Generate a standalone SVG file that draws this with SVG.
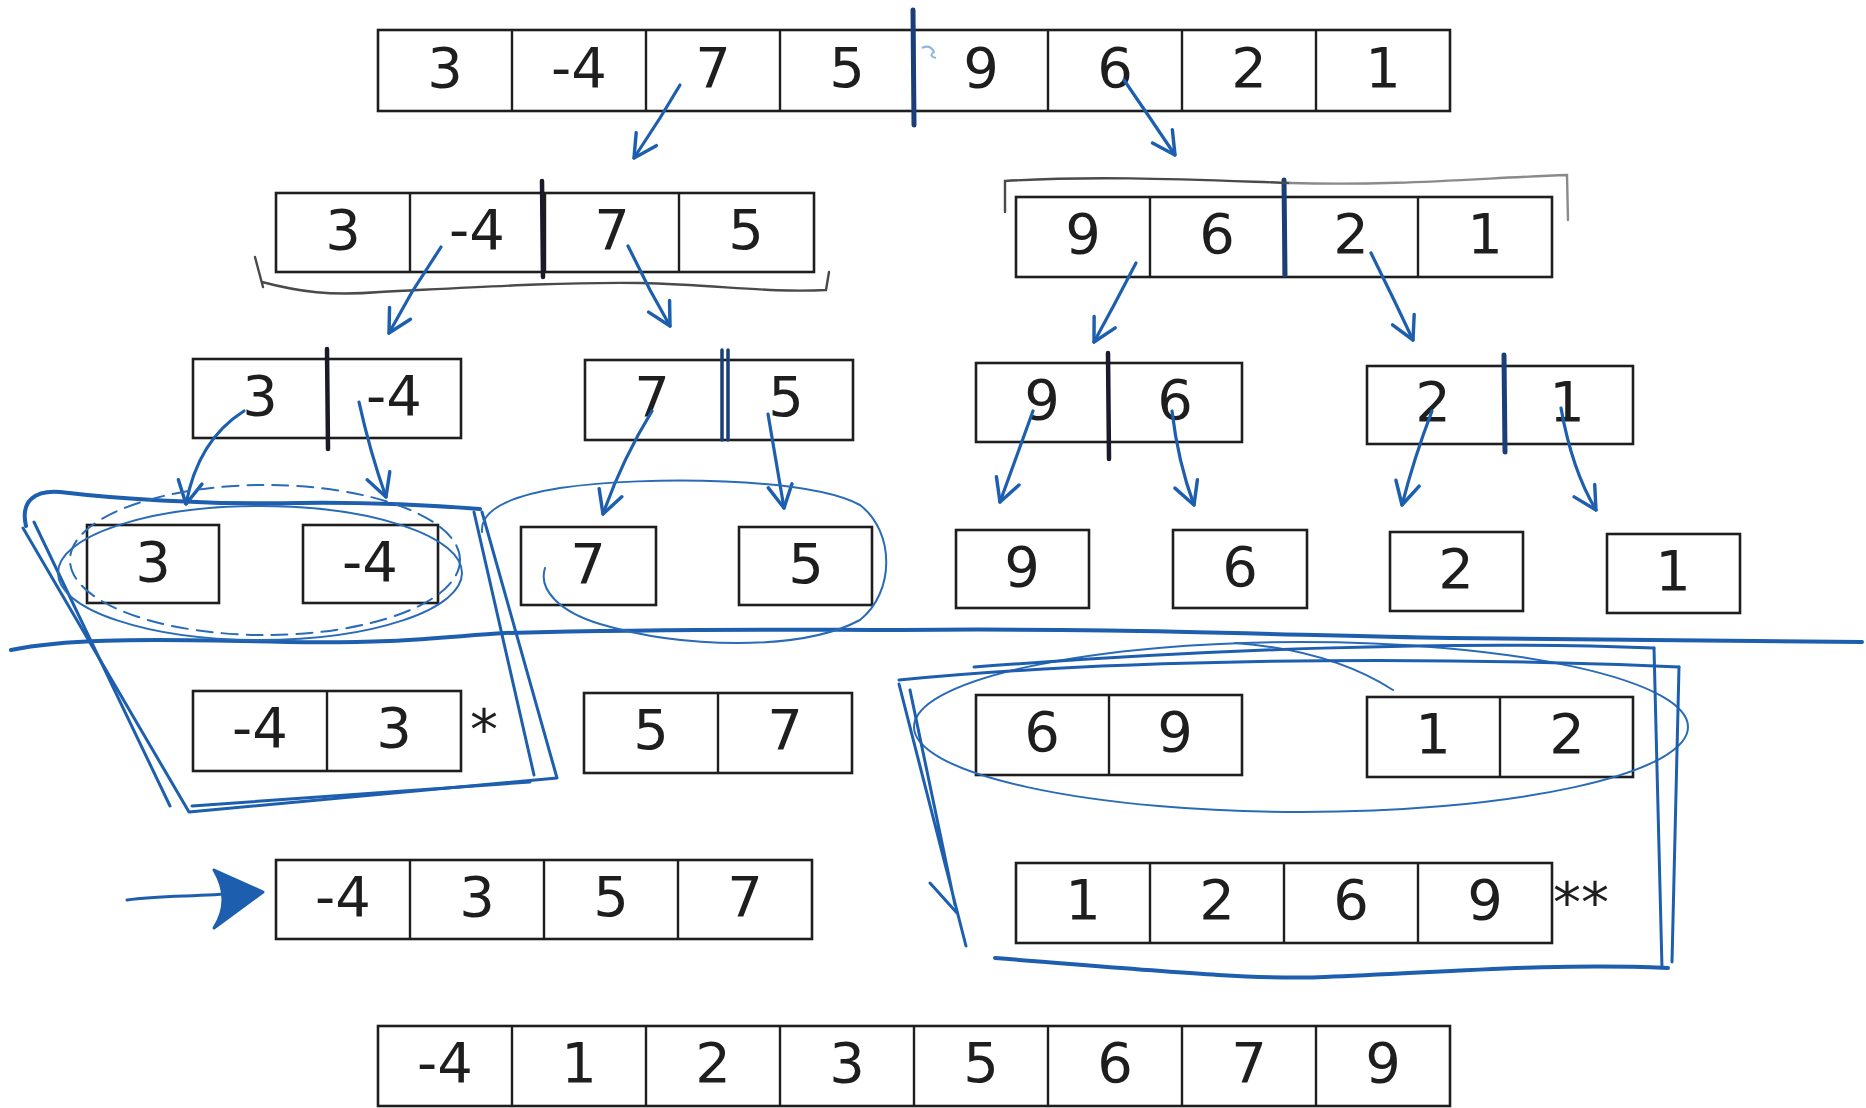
<svg xmlns="http://www.w3.org/2000/svg" width="1866" height="1108" viewBox="0 0 1866 1108">
<style>
.box{fill:#fff;stroke:#1e1e1e;stroke-width:2.6}
.sep{stroke:#1e1e1e;stroke-width:2.4}
.n{font-family:"DejaVu Sans","Liberation Sans",sans-serif;font-size:56px;fill:#1e1e1e;text-anchor:middle}
.st{font-family:"DejaVu Sans","Liberation Sans",sans-serif;font-size:56px;fill:#1e1e1e}
.ink{fill:none;stroke:#1d5fae;stroke-width:3;stroke-linecap:round;stroke-linejoin:round}
.thin{fill:none;stroke:#2a6bb8;stroke-width:2;stroke-linecap:round}
.pen{fill:none;stroke:#4a4a4a;stroke-width:2.4;stroke-linecap:round}
.div{stroke:#1a3f78;stroke-width:5;stroke-linecap:round}
.divk{stroke:#1a1a2a;stroke-width:4.5;stroke-linecap:round}
.arr{fill:none;stroke:#1d5fae;stroke-width:3.2;stroke-linecap:round;marker-end:url(#ah)}
</style>
<defs>
<marker id="ah" viewBox="0 0 20 20" refX="18" refY="10" markerWidth="30" markerHeight="30" markerUnits="userSpaceOnUse" orient="auto">
<path d="M3,2 L18,10 L3,18" fill="none" stroke="#1d5fae" stroke-width="2.3" stroke-linecap="round" stroke-linejoin="round"/>
</marker>
</defs>
<rect width="1866" height="1108" fill="#fff"/>

<g id="r1">
<rect class="box" x="378" y="30" width="1072" height="81"/>
<path class="sep" d="M512,30V111M646,30V111M780,30V111M914,30V111M1048,30V111M1182,30V111M1316,30V111"/>
<text class="n" y="87"><tspan x="445">3</tspan><tspan x="579">-4</tspan><tspan x="713">7</tspan><tspan x="847">5</tspan><tspan x="981">9</tspan><tspan x="1115">6</tspan><tspan x="1249">2</tspan><tspan x="1383">1</tspan></text>
<line class="div" x1="913" y1="10" x2="914" y2="125"/>
<path d="M922,48 Q930,44 934,52 Q928,56 936,58" fill="none" stroke="#8fb4e0" stroke-width="2"/>
</g>

<g id="r2a">
<rect class="box" x="276" y="193" width="538" height="79"/>
<path class="sep" d="M410,193V272M545,193V272M679,193V272"/>
<text class="n" y="249"><tspan x="343">3</tspan><tspan x="477">-4</tspan><tspan x="612">7</tspan><tspan x="746">5</tspan></text>
<line class="divk" x1="542" y1="181" x2="543" y2="277"/>
<path class="pen" d="M255,257 L263,287 M262,282 C300,292 330,296 380,292 C480,287 560,282 640,283 C720,285 770,293 826,290 L829,272"/>
</g>

<g id="r2b">
<rect class="box" x="1016" y="197" width="536" height="80"/>
<path class="sep" d="M1150,197V277M1284,197V277M1418,197V277"/>
<text class="n" y="253"><tspan x="1083">9</tspan><tspan x="1217">6</tspan><tspan x="1351">2</tspan><tspan x="1485">1</tspan></text>
<line class="div" x1="1284" y1="180" x2="1285" y2="275"/>
<path class="pen" d="M1005,212 L1005,181 C1100,175 1200,180 1290,183" />
<path class="pen" style="stroke:#8a8a8a" d="M1290,183 C1400,186 1480,178 1567,175 L1568,220"/>
</g>

<g id="r3a">
<rect class="box" x="193" y="359" width="268" height="79"/>
<text class="n" y="415"><tspan x="260">3</tspan><tspan x="394">-4</tspan></text>
<line class="divk" x1="327" y1="349" x2="328" y2="449"/>
</g>
<g id="r3b">
<rect class="box" x="585" y="360" width="268" height="80"/>
<text class="n" y="416"><tspan x="652">7</tspan><tspan x="786">5</tspan></text>
<path class="div" style="stroke-width:3.5" d="M722,350V440M728,350V440"/>
</g>
<g id="r3c">
<rect class="box" x="976" y="363" width="266" height="79"/>
<text class="n" y="419"><tspan x="1042">9</tspan><tspan x="1175">6</tspan></text>
<line class="divk" x1="1108" y1="353" x2="1109" y2="459"/>
</g>
<g id="r3d">
<rect class="box" x="1367" y="366" width="266" height="78"/>
<text class="n" y="421"><tspan x="1433">2</tspan><tspan x="1567">1</tspan></text>
<line class="div" x1="1504" y1="355" x2="1505" y2="452"/>
</g>

<g id="r4a"><rect class="box" x="87" y="525" width="132" height="78"/><text class="n" x="153" y="581">3</text></g>
<g id="r4b"><rect class="box" x="303" y="525" width="135" height="78"/><text class="n" x="370" y="581">-4</text></g>
<g id="r4c"><rect class="box" x="521" y="527" width="135" height="78"/><text class="n" x="588" y="583">7</text></g>
<g id="r4d"><rect class="box" x="739" y="527" width="133" height="78"/><text class="n" x="806" y="583">5</text></g>
<g id="r4e"><rect class="box" x="956" y="530" width="133" height="78"/><text class="n" x="1022" y="586">9</text></g>
<g id="r4f"><rect class="box" x="1173" y="530" width="134" height="78"/><text class="n" x="1240" y="586">6</text></g>
<g id="r4g"><rect class="box" x="1390" y="532" width="133" height="79"/><text class="n" x="1456" y="588">2</text></g>
<g id="r4h"><rect class="box" x="1607" y="534" width="133" height="79"/><text class="n" x="1673" y="590">1</text></g>

<g id="r5a">
<rect class="box" x="193" y="691" width="268" height="80"/>
<path class="sep" d="M327,691V771"/>
<text class="n" y="747"><tspan x="260">-4</tspan><tspan x="394">3</tspan></text>
<text class="st" x="470" y="749">*</text>
</g>
<g id="r5b">
<rect class="box" x="584" y="693" width="268" height="80"/>
<path class="sep" d="M718,693V773"/>
<text class="n" y="749"><tspan x="651">5</tspan><tspan x="785">7</tspan></text>
</g>
<g id="r5c">
<rect class="box" x="976" y="695" width="266" height="80"/>
<path class="sep" d="M1109,695V775"/>
<text class="n" y="751"><tspan x="1042">6</tspan><tspan x="1175">9</tspan></text>
</g>
<g id="r5d">
<rect class="box" x="1367" y="697" width="266" height="80"/>
<path class="sep" d="M1500,697V777"/>
<text class="n" y="753"><tspan x="1433">1</tspan><tspan x="1567">2</tspan></text>
</g>

<g id="r6a">
<rect class="box" x="276" y="860" width="536" height="79"/>
<path class="sep" d="M410,860V939M544,860V939M678,860V939"/>
<text class="n" y="916"><tspan x="343">-4</tspan><tspan x="477">3</tspan><tspan x="611">5</tspan><tspan x="745">7</tspan></text>
</g>
<g id="r6b">
<rect class="box" x="1016" y="863" width="536" height="80"/>
<path class="sep" d="M1150,863V943M1284,863V943M1418,863V943"/>
<text class="n" y="919"><tspan x="1083">1</tspan><tspan x="1217">2</tspan><tspan x="1351">6</tspan><tspan x="1485">9</tspan></text>
<text class="st" x="1553" y="922">**</text>
</g>

<g id="r7">
<rect class="box" x="378" y="1026" width="1072" height="80"/>
<path class="sep" d="M512,1026V1106M646,1026V1106M780,1026V1106M914,1026V1106M1048,1026V1106M1182,1026V1106M1316,1026V1106"/>
<text class="n" y="1082"><tspan x="445">-4</tspan><tspan x="579">1</tspan><tspan x="713">2</tspan><tspan x="847">3</tspan><tspan x="981">5</tspan><tspan x="1115">6</tspan><tspan x="1249">7</tspan><tspan x="1383">9</tspan></text>
</g>

<g id="connectors">
<path class="arr" d="M680,85 L660,118 L634,158"/>
<path class="arr" d="M1124,80 L1150,118 L1175,155"/>
<path class="arr" d="M441,247 L412,292 L389,333"/>
<path class="arr" d="M628,246 L650,290 L670,326"/>
<path class="arr" d="M1136,263 L1114,305 L1094,342"/>
<path class="arr" d="M1371,253 L1394,300 L1413,340"/>
<path class="arr" d="M244,411 Q198,440 186,504"/>
<path class="arr" d="M359,402 Q370,452 386,497"/>
<path class="arr" d="M652,411 Q622,460 603,514"/>
<path class="arr" d="M768,414 Q776,462 784,508"/>
<path class="arr" d="M1033,411 Q1016,458 1000,502"/>
<path class="arr" d="M1172,411 Q1178,462 1194,505"/>
<path class="arr" d="M1432,411 Q1414,458 1402,505"/>
<path class="arr" d="M1561,408 Q1572,470 1596,510"/>
<path class="ink" d="M127,900 C160,895 200,897 235,893"/>
<path d="M214,870 L263,892 L214,928 Q232,900 214,870 Z" fill="#1d5fae" stroke="#1d5fae" stroke-width="3" stroke-linejoin="round"/>
</g>

<g id="annotations">
<path class="ink" style="stroke-width:4" d="M11,650 C60,640 120,638 287,642 C400,644 450,636 505,633 C700,628 800,630 900,630 C1100,628 1250,634 1450,638 C1650,641 1760,642 1862,642"/>
<path class="ink" d="M23,528 L189,812 L557,778 L482,512"/>
<path class="ink" d="M34,522 L170,806 M474,512 L534,775 M192,806 L530,782"/>
<path class="ink" style="stroke-width:4" d="M26,526 C20,500 36,490 60,492 C110,498 200,505 300,503 C380,502 440,506 480,509"/>
<ellipse class="thin" cx="260" cy="573" rx="202" ry="67"/>
<ellipse class="thin" cx="265" cy="560" rx="195" ry="75" stroke-dasharray="16 9"/>
<path class="thin" d="M545,568 C538,590 560,612 600,624 C680,648 800,652 860,620 C895,592 895,532 860,505 C810,478 650,475 560,488 C510,496 480,510 482,532"/>
<ellipse class="thin" cx="1301" cy="727" rx="387" ry="85"/>
<path class="thin" d="M1393,690 Q1330,650 1235,643"/>
<path class="ink" d="M899,680 C1100,660 1400,655 1679,667 M974,667 C1200,650 1450,640 1654,648"/>
<path class="ink" d="M899,684 L966,946 M910,690 L955,905 M930,883 L957,913"/>
<path class="ink" d="M1654,648 L1662,968 M1679,667 L1672,962"/>
<path class="ink" style="stroke-width:4" d="M995,958 C1150,970 1250,980 1325,977 C1450,972 1550,963 1668,968"/>
</g>
</svg>
